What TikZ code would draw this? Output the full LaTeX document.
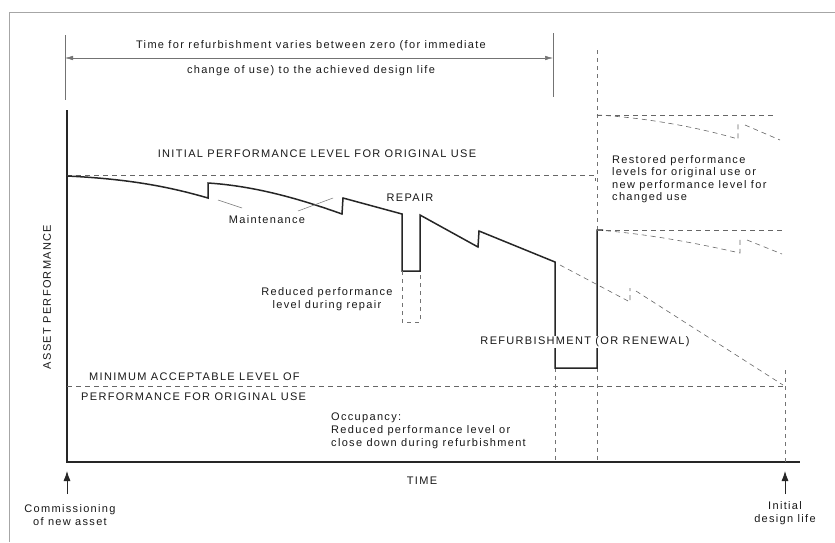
\documentclass[tikz,border=0pt]{standalone}
\usepackage{fontspec}
\setmainfont{Liberation Sans}[LetterSpace=12]
\usetikzlibrary{arrows.meta}
\begin{document}
\begin{tikzpicture}[x=1pt,y=-1pt,
  lbl/.style={font=\fontsize{11}{13}\selectfont, inner sep=1pt, text=black!90},
  perf/.style={line width=1.5pt, line join=miter, black!85},
  guide/.style={black!60, line width=0.6pt, dash pattern=on 5pt off 4pt},
  fineguide/.style={black!55, line width=0.6pt, dash pattern=on 4pt off 4pt},
  frame/.style={gray!70, line width=1pt},
  hair/.style={black!55, line width=0.5pt},
  tip/.style={-{Latex[length=10pt,width=7pt]}, line width=0.8pt, black!85}]
\useasboundingbox (0,0) rectangle (835,542);
\fill[white] (0,0) rectangle (835,542);

% page frame (top and left edges)
\draw[frame] (9,542) -- (9,12) -- (835,12);

% axes
\coordinate (org) at (67,462);
\coordinate (ytop) at (67,110);
\coordinate (xend) at (800,462);
\draw[line width=1.5pt, black!85] (ytop) -- (org) -- (xend);

% time span bracket at the top
\coordinate (brL1) at (65,35);   \coordinate (brL2) at (65,100);
\coordinate (brR1) at (553,33);  \coordinate (brR2) at (553,97);
\coordinate (brA) at (65,58);    \coordinate (brB) at (553,58);
\draw[hair] (brL1) -- (brL2);
\draw[hair] (brR1) -- (brR2);
\draw[hair, {Latex[length=8pt,width=4.5pt]}-{Latex[length=8pt,width=4.5pt]}] (brA) -- (brB);
\node[lbl] (span1) at (311,46) {Time for refurbishment varies between zero (for immediate};
\node[lbl] (span2) at (311,71) {change of use) to the achieved design life};

% levels
\coordinate (ip0) at (67,175);  \coordinate (ip1) at (595,175); \coordinate (ip2) at (595,181);
\draw[guide] (ip0) -- (ip1) -- (ip2);
\node[lbl] (initial) at (317,154) {INITIAL PERFORMANCE LEVEL FOR ORIGINAL USE};

\coordinate (min0) at (67,386); \coordinate (min1) at (785,386);
\draw[guide] (min0) -- (min1);
\node[lbl, anchor=west] (min1t) at (88,377) {MINIMUM ACCEPTABLE LEVEL OF};
\node[lbl, anchor=west] (min2t) at (80,397) {PERFORMANCE FOR ORIGINAL USE};

% refurbishment period markers
\coordinate (rfA0) at (555,368); \coordinate (rfA1) at (555,462);
\coordinate (rfB0) at (597,50);  \coordinate (rfB1) at (597,230);
\coordinate (rfB2) at (597,368); \coordinate (rfB3) at (597,462);
\draw[fineguide] (rfA0) -- (rfA1);
\draw[fineguide] (rfB0) -- (rfB1);
\draw[fineguide] (rfB2) -- (rfB3);

% design life marker
\coordinate (dl0) at (785,370); \coordinate (dl1) at (785,462);
\draw[fineguide] (dl0) -- (dl1);

% asset performance over time
\coordinate (p0) at (67,176);
\coordinate (m1a) at (208,198); \coordinate (m1b) at (208,183);
\coordinate (m2a) at (342,214); \coordinate (m2b) at (343,198);
\coordinate (r0) at (402,214);  \coordinate (r1) at (402,271);
\coordinate (r2) at (420,271);  \coordinate (r3) at (420,215);
\coordinate (m3a) at (478,247); \coordinate (m3b) at (479,231);
\coordinate (e0) at (555,262);
\coordinate (rs) at (603,230);
\draw[perf] (p0) .. controls (130,179) and (170,187) .. (m1a) -- (m1b)
  .. controls (255,186) and (300,199) .. (m2a) -- (m2b) -- (r0) -- (r1) -- (r2) -- (r3)
  -- (m3a) -- (m3b) -- (e0) -- (rfA0) -- (rfB2) -- (rfB1) -- (rs);

% performance without repair
\coordinate (q1) at (402,322); \coordinate (q2) at (420,322);
\draw[fineguide] (r1) -- (q1) -- (q2) -- (r2);

% decline continued without refurbishment
\coordinate (d0) at (560,265); \coordinate (d1) at (630,302);
\coordinate (d2) at (630,288); \coordinate (d3) at (636,291);
\coordinate (d4) at (783,385);
\draw[guide] (d0) -- (d1) -- (d2);
\draw[guide] (d3) -- (d4);

% restored levels after refurbishment
\coordinate (ua) at (597,115); \coordinate (ub) at (775,115);
\coordinate (uc) at (738,139); \coordinate (ud) at (738,123);
\coordinate (ue) at (745,125); \coordinate (uf) at (780,140);
\draw[guide] (ua) -- (ub);
\draw[guide] (ua) .. controls (650,118) and (700,128) .. (uc) -- (ud);
\draw[guide] (ue) -- (uf);

\coordinate (la) at (597,230); \coordinate (lb) at (783,230);
\coordinate (lc) at (740,253); \coordinate (ld) at (740,238);
\coordinate (le) at (747,240); \coordinate (lf) at (782,254);
\draw[guide] (la) -- (lb);
\draw[guide] (la) .. controls (650,234) and (700,244) .. (lc) -- (ld);
\draw[guide] (le) -- (lf);

% labels on the curve
\node[lbl] (maint) at (267,220) {Maintenance};
\coordinate (mt1) at (218,200); \coordinate (mt2) at (242,208);
\coordinate (mt3) at (298,211); \coordinate (mt4) at (333,198);
\draw[hair] (mt1) -- (mt2);
\draw[hair] (mt3) -- (mt4);
\node[lbl] (repair) at (410,198) {REPAIR};
\node[lbl, align=center] (reduced) at (327,299) {Reduced performance\\level during repair};
\node[lbl, align=left, anchor=north west, font=\fontsize{11}{12.6}\selectfont] (restored) at (611,154)
  {Restored performance\\levels for original use or\\new performance level for\\changed use};
\node[lbl, fill=white, inner xsep=3pt] (refurb) at (585,342) {REFURBISHMENT (OR RENEWAL)};
\node[lbl, align=left, anchor=north west, font=\fontsize{11}{12.8}\selectfont] (occ) at (330,412)
  {Occupancy:\\Reduced performance level or\\close down during refurbishment};

% axis titles
\node[lbl, rotate=90] (yt) at (47,297) {ASSET PERFORMANCE};
\node[lbl] (xt) at (422,481) {TIME};

% start and end of life
\coordinate (c0) at (67,494); \coordinate (c1) at (67,471);
\draw[tip] (c0) -- (c1);
\node[lbl, align=center, font=\fontsize{11}{13}\selectfont] (comm) at (70,515) {Commissioning\\of new asset};
\coordinate (i0) at (785,494); \coordinate (i1) at (785,471);
\draw[tip] (i0) -- (i1);
\node[lbl, align=center, font=\fontsize{11}{13}\selectfont] (idl) at (785,513) {Initial\\design life};
\end{tikzpicture}
\end{document}
